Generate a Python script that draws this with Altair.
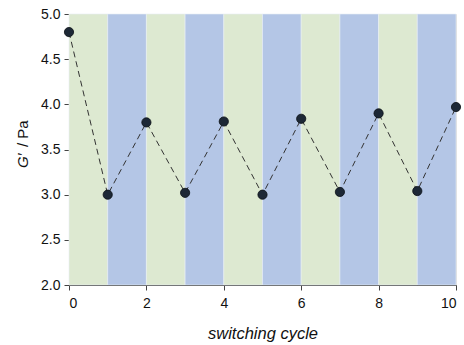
import altair as alt
import pandas as pd

cycles = [0, 1, 2, 3, 4, 5, 6, 7, 8, 9, 10]
g_prime = [4.80, 3.00, 3.80, 3.02, 3.81, 3.00, 3.84, 3.03, 3.90, 3.04, 3.97]
band_start = [0, 1, 2, 3, 4, 5, 6, 7, 8, 9]
band_state = ["A", "B", "A", "B", "A", "B", "A", "B", "A", "B"]
x_ticks = [0, 2, 4, 6, 8, 10]
y_ticks = [2.0, 2.5, 3.0, 3.5, 4.0, 4.5, 5.0]

pts = pd.DataFrame({"cycle": cycles, "g": g_prime})
bands = pd.DataFrame({"x0": band_start, "x1": [b + 1 for b in band_start],
                      "state": band_state, "y0": [2.0] * 10, "y1": [5.0] * 10})

FONT = "Liberation Sans"
xscale = alt.Scale(domain=[0, 10], nice=False, zero=False)
yscale = alt.Scale(domain=[2.0, 5.0], nice=False, zero=False)

xaxis = alt.Axis(values=x_ticks, format="d", title="switching cycle", titleFontStyle="italic",
                 titleFont=FONT, titleFontSize=16.5, titleFontWeight="normal", titleColor="#111",
                 titlePadding=15, labelFont=FONT, labelFontSize=14, labelColor="#111",
                 labelPadding=6, tickSize=5, tickColor="#444", domainColor="#444", grid=False)
yaxis = alt.Axis(values=y_ticks, format=".1f", title=None, labelFont=FONT, labelFontSize=14,
                 labelColor="#111", labelPadding=4, tickSize=5, tickColor="#444",
                 domainColor="#444", grid=False)

rects = alt.Chart(bands).mark_rect(stroke="#e8eef5", strokeWidth=0.6).encode(
    x=alt.X("x0:Q", scale=xscale, axis=xaxis),
    x2="x1:Q",
    y=alt.Y("y0:Q", scale=yscale, axis=yaxis),
    y2="y1:Q",
    color=alt.Color("state:N", scale=alt.Scale(domain=["A", "B"], range=["#dde9d1", "#b4c6e6"]),
                    legend=None),
)

line = alt.Chart(pts).mark_line(color="#333333", strokeDash=[6, 4], strokeWidth=1).encode(
    x=alt.X("cycle:Q", scale=xscale), y=alt.Y("g:Q", scale=yscale))

points = alt.Chart(pts).mark_point(filled=True, size=85, color="#1d2836", opacity=1,
                                   stroke="#0a0f14", strokeWidth=0.8).encode(
    x=alt.X("cycle:Q", scale=xscale), y=alt.Y("g:Q", scale=yscale))

tdf = pd.DataFrame({"a": [0]})
t1 = alt.Chart(tdf).mark_text(text="G′", angle=270, align="left", baseline="middle",
                              font=FONT, fontSize=15, fontStyle="italic", color="#111").encode(
    x=alt.value(-46), y=alt.value(154))
t2 = alt.Chart(tdf).mark_text(text="/ Pa", angle=270, align="left", baseline="middle",
                              font=FONT, fontSize=15, color="#111").encode(
    x=alt.value(-46), y=alt.value(133))

chart = alt.layer(rects, line, points, t1, t2).properties(
    width=387, height=271,
    autosize=alt.AutoSizeParams(type="none"),
    padding={"left": 69, "top": 14, "right": 8, "bottom": 60},
).configure_view(stroke="#777777", strokeWidth=1).configure(background="white")

chart.save("out.html", embed_options={"renderer": "svg", "actions": False})
